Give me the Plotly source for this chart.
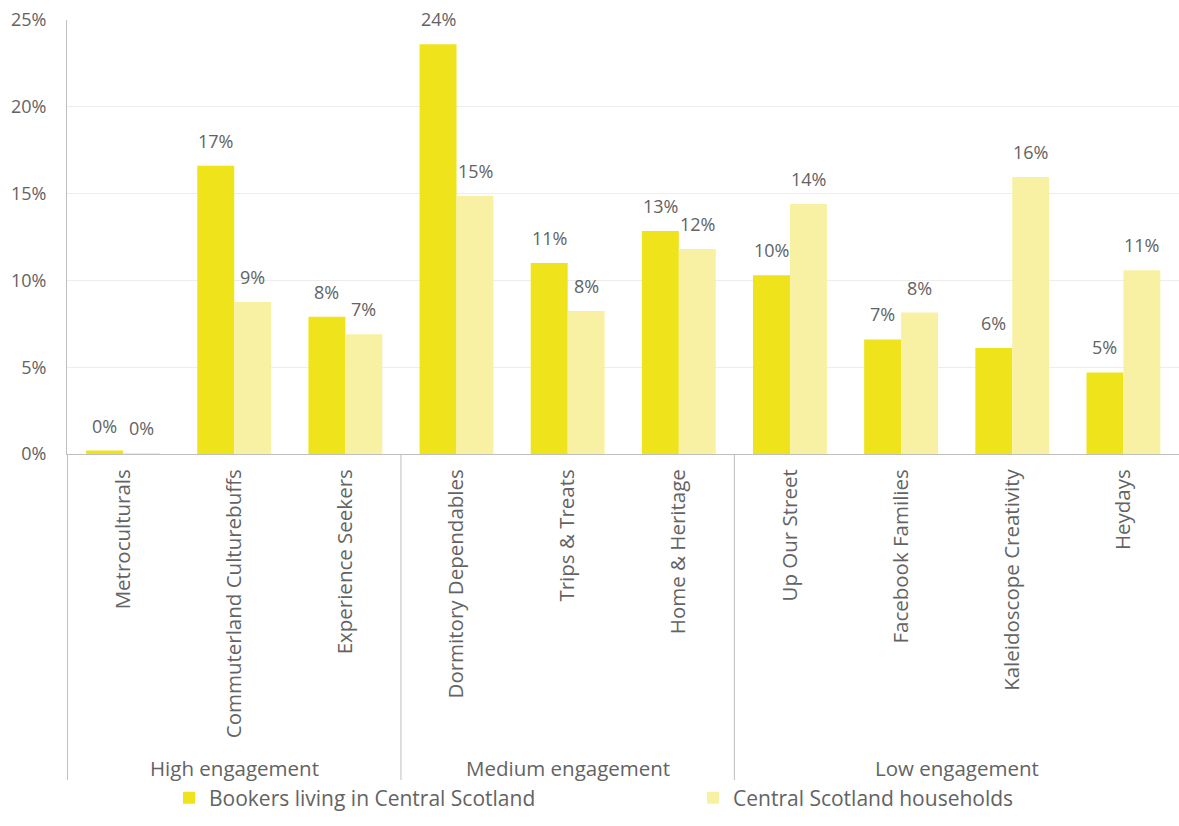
import plotly.graph_objects as go

# Segment names, engagement groups and shares
segments = [
    "Metroculturals", "Commuterland Culturebuffs", "Experience Seekers",
    "Dormitory Dependables", "Trips & Treats", "Home & Heritage",
    "Up Our Street", "Facebook Families", "Kaleidoscope Creativity", "Heydays",
]
groups = ["High engagement", "Medium engagement", "Low engagement"]
group_sizes = [3, 3, 4]

bookers = [0.002, 0.166, 0.079, 0.236, 0.110, 0.1285, 0.103, 0.066, 0.061, 0.047]
households = [0.0005, 0.0876, 0.069, 0.1487, 0.0824, 0.1181, 0.144, 0.0815, 0.1596, 0.1058]

series_names = ["Bookers living in Central Scotland", "Central Scotland households"]
y_ticks = [0, 0.05, 0.10, 0.15, 0.20, 0.25]

# Styling
COL_BOOKERS = "#EFE31C"
COL_HOUSEHOLDS = "#F8F1A4"
TEXT = "#636363"
AXIS = "#BFBFBF"
GRID = "#EDEDED"
FONT = "Open Sans"

W, H = 1179, 826
M_L, M_R, M_T, M_B = 67, 0, 20, 372
BARGAP = 0.335

fig = go.Figure()
fig.add_trace(go.Bar(x=segments, y=bookers, name=series_names[0],
                     marker=dict(color=COL_BOOKERS, line=dict(width=0)),
                     hoverinfo="skip"))
fig.add_trace(go.Bar(x=segments, y=households, name=series_names[1],
                     marker=dict(color=COL_HOUSEHOLDS, line=dict(width=0)),
                     hoverinfo="skip"))

# Value labels above each bar (offset to sit over the left / right bar of a pair)
plot_w = W - M_L - M_R
bar_px = plot_w / len(segments) * (1 - BARGAP) / 2
annotations = []
for vals, dx in ((bookers, -bar_px / 2), (households, bar_px / 2)):
    for i, v in enumerate(vals):
        annotations.append(dict(
            x=i, y=v, xref="x", yref="y", text=f"{round(v * 100):.0f}%",
            showarrow=False, xanchor="center", yanchor="bottom",
            xshift=dx, yshift=11, font=dict(size=18, color=TEXT, family=FONT),
        ))

# Engagement group labels and dividers beneath the category labels
plot_h = H - M_T - M_B
div_bottom = -(780 - (H - M_B)) / plot_h
label_y = -(768 - (H - M_B)) / plot_h
shapes = [dict(type="line", xref="x", yref="paper", x0=-0.5, x1=-0.5,
               y0=div_bottom, y1=0, line=dict(color=AXIS, width=1))]
start = 0
for g, n in zip(groups, group_sizes):
    center = start + (n - 1) / 2
    annotations.append(dict(
        x=center, y=label_y, xref="x", yref="paper", text=g, showarrow=False,
        xanchor="center", yanchor="middle",
        font=dict(size=20.5, color=TEXT, family=FONT),
    ))
    start += n
    if start < len(segments):
        shapes.append(dict(type="line", xref="x", yref="paper",
                           x0=start - 0.5, x1=start - 0.5, y0=div_bottom, y1=0,
                           line=dict(color=AXIS, width=1)))

fig.update_layout(
    width=W, height=H,
    margin=dict(l=M_L, r=M_R, t=M_T, b=M_B),
    paper_bgcolor="white", plot_bgcolor="white",
    barmode="group", bargap=BARGAP, bargroupgap=0,
    font=dict(family=FONT, color=TEXT, size=18),
    showlegend=True,
    legend=dict(
        orientation="h", xref="container", yref="container",
        x=169 / W, y=(H - 798) / H, xanchor="left", yanchor="middle",
        entrywidth=479, entrywidthmode="pixels",
        font=dict(size=21, color=TEXT, family=FONT),
        bgcolor="rgba(0,0,0,0)", traceorder="normal",
    ),
    xaxis=dict(
        type="category", tickangle=-90, ticks="", showline=True,
        linecolor=AXIS, linewidth=1, showgrid=False, zeroline=False,
        tickfont=dict(size=20.5, color=TEXT, family=FONT),
        ticklabelstandoff=6, fixedrange=True,
    ),
    yaxis=dict(
        range=[0, 0.25], tickvals=y_ticks, tickformat=".0%",
        showline=True, linecolor=AXIS, linewidth=1,
        showgrid=True, gridcolor=GRID, gridwidth=1, zeroline=False,
        ticks="", tickfont=dict(size=18, color=TEXT, family=FONT),
        ticklabelstandoff=16, fixedrange=True,
    ),
    annotations=annotations,
    shapes=shapes,
)

fig.write_html("out.html", config={"displayModeBar": False})
